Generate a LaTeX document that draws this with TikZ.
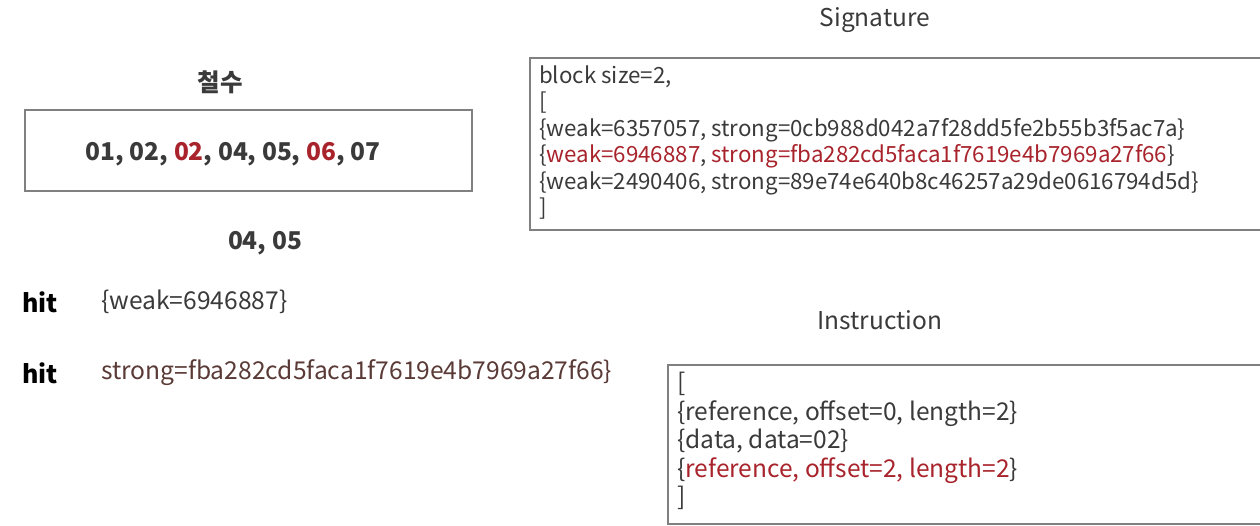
\documentclass[tikz,border=0pt]{standalone}
\usepackage{fontspec}
\setmainfont{Noto Sans CJK KR}
\definecolor{txtgray}{HTML}{3A3A3A}
\definecolor{hitred}{HTML}{A8232B}
\definecolor{hitbrown}{HTML}{5A3A36}
\definecolor{boxgray}{HTML}{808080}

\tikzset{
  title/.style={font=\fontsize{24.5}{28}\selectfont, text=txtgray},
  bignum/.style={font=\fontsize{24.5}{28}\selectfont\bfseries, text=txtgray},
  code/.style={font=\fontsize{22.3}{26.5}\selectfont, text=txtgray, align=left, anchor=north west, inner sep=0pt},
  hitlabel/.style={font=\fontsize{25}{28}\selectfont\bfseries, text=black, anchor=west, inner sep=0pt},
  hittext/.style={font=\fontsize{24.6}{28}\selectfont, anchor=west, inner sep=0pt},
  frame/.style={draw=boxgray, line width=1.3pt}
}

\begin{document}
\begin{tikzpicture}[x=1pt, y=-1pt]
            \useasboundingbox (0,0) rectangle (1260,526);

            % left side
            \node[bignum] (name) at (220,82) {철수};
            \draw[frame] (25,110) rectangle (472,191);
            \node[bignum] (nums) at (233,154) {01, 02, \textcolor{hitred}{02}, 04, 05, \textcolor{hitred}{06}, 07};
            \node[bignum] (pair) at (265,243) {04, 05};

            \node[hitlabel] (hitone) at (22,302) {hit};
            \node[hittext, text=txtgray] (weakhit) at (101,302) {\{weak=6946887\}};
            \node[hitlabel] (hittwo) at (22,373) {hit};
            \node[hittext, text=hitbrown] (stronghit) at (101,373) {strong=fba282cd5faca1f7619e4b7969a27f66\}};

            % signature
            \node[title] (sigtitle) at (875,20) {Signature};
            \draw[frame] (530,58) rectangle (1270,230);
            \node[code] (sig) at (539,65.5) {block size=2,\\
            {[}\\
            \{weak=6357057, strong=0cb988d042a7f28dd5fe2b55b3f5ac7a\}\\
            \{\textcolor{hitred}{weak=6946887}, \textcolor{hitred}{strong=fba282cd5faca1f7619e4b7969a27f66}\}\\
            \{weak=2490406, strong=89e74e640b8c46257a29de0616794d5d\}\\
            {]}};

            % instruction
            \node[title] (institle) at (880,320) {Instruction};
            \draw[frame] (668,365) rectangle (1270,524);
            \node[code, font=\fontsize{24.5}{28.5}\selectfont] (ins) at (677,372) {{[}\\
            \{reference, offset=0, length=2\}\\
            \{data, data=02\}\\
            \{\textcolor{hitred}{reference, offset=2, length=2}\}\\
            {]}};
        \end{tikzpicture}
\end{document}
